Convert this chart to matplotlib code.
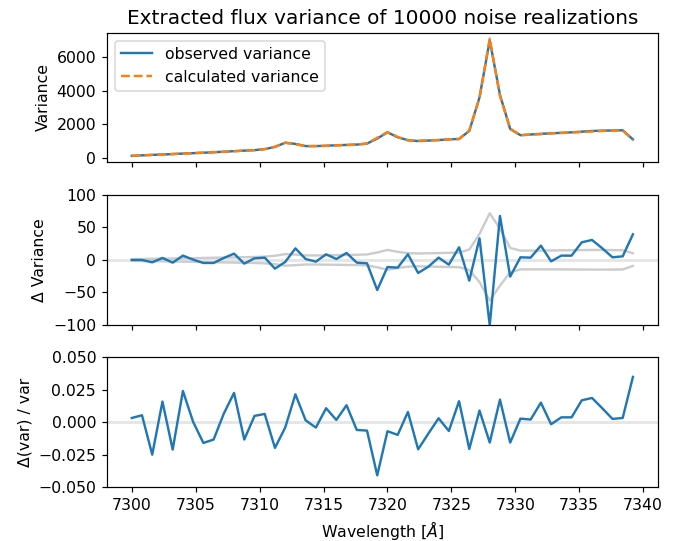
import numpy as np
import matplotlib
matplotlib.use("Agg")
import matplotlib.pyplot as plt

# ---- data ----
wavelength_start = 7300.0
wavelength_step = 0.8
n_points = 50

obs_var = [120, 150, 175, 200, 225, 255, 280, 305, 335, 365,
           400, 430, 460, 520, 650, 900, 830, 700, 700, 720,
           750, 770, 790, 850, 1150, 1520, 1230, 1050, 1000, 1030,
           1060, 1100, 1130, 1600, 3600, 7000, 3750, 1720, 1350, 1390,
           1430, 1460, 1490, 1520, 1560, 1600, 1620, 1630, 1640, 1100]

delta_var = [0.0, 0.0, -3.6, 3.1, -4.1, 6.7, 0.5, -4.6, -4.6, 3.1,
             9.7, -5.6, 2.6, 3.6, -13.3, -3.1, 17.9, 1.5, -2.6, 8.7,
             1.5, 10.8, -4.1, -5.1, -46.2, -10.8, -11.8, 8.7, -20.0, -10.3,
             3.6, -7.2, 19.5, -31.8, 33.3, -100.5, 67.7, -25.6, 4.1, 3.6,
             22.1, -2.1, 6.7, 6.7, 27.2, 30.8, 18.0, 4.1, 5.6, 39.5]

rel_delta = [0.0033, 0.0054, -0.0249, 0.0159, -0.0210, 0.0241, 0.0003, -0.0159, -0.0133, 0.0067,
             0.0226, -0.0133, 0.0049, 0.0064, -0.0197, -0.0041, 0.0215, 0.0015, -0.0041, 0.0108,
             0.0018, 0.0131, -0.0059, -0.0064, -0.0408, -0.0069, -0.0097, 0.0079, -0.0208, -0.0087,
             0.0031, -0.0067, 0.0162, -0.0205, 0.0090, -0.0156, 0.0174, -0.0156, 0.0028, 0.0021,
             0.0151, -0.0015, 0.0038, 0.0038, 0.0169, 0.0187, 0.0108, 0.0026, 0.0033, 0.0349]

band_upper = [1.2, 1.5, 1.8, 2.0, 2.3, 2.6, 2.8, 3.1, 3.4, 3.7,
              4.0, 4.3, 4.6, 5.2, 6.5, 9.0, 8.3, 7.0, 7.0, 7.2,
              7.5, 7.7, 8.0, 8.5, 11.5, 15.5, 12.5, 10.5, 10.0, 10.3,
              10.6, 11.0, 11.3, 16.0, 40.0, 72.0, 48.0, 18.5, 14.4, 14.4,
              14.4, 14.6, 14.9, 15.0, 15.2, 15.4, 15.4, 15.2, 15.0, 10.3]

band_lower = [-1.2, -1.5, -1.8, -2.0, -2.3, -2.6, -2.8, -3.1, -3.4, -3.7,
              -4.0, -4.3, -4.6, -5.2, -6.5, -8.8, -8.0, -7.0, -7.0, -7.2,
              -7.4, -7.6, -7.8, -8.4, -11.2, -15.0, -12.2, -10.3, -9.8, -10.1,
              -10.4, -10.8, -11.1, -15.5, -34.0, -62.5, -39.5, -19.0, -14.4, -14.4,
              -14.4, -14.4, -14.5, -14.6, -14.7, -14.8, -14.8, -14.7, -14.6, -9.2]

title = "Extracted flux variance of 10000 noise realizations"
xlabel = r"Wavelength [$\AA$]"

# ---- figure ----
plt.rcParams["font.size"] = 10.5
wl = wavelength_start + wavelength_step * np.arange(n_points)
obs = np.array(obs_var, dtype=float)
dv = np.array(delta_var, dtype=float)
calc = obs - dv

dpi = 108
fig = plt.figure(figsize=(681 / dpi, 541 / dpi), dpi=dpi)
left, width = 0.1567, 0.8095
ax1 = fig.add_axes([left, 0.7011, width, 0.2384])
ax2 = fig.add_axes([left, 0.3993, width, 0.2403], sharex=ax1)
ax3 = fig.add_axes([left, 0.0993, width, 0.2403], sharex=ax1)

ax1.plot(wl, obs, color="C0", lw=1.6, label="observed variance")
ax1.plot(wl, calc, color="C1", lw=1.6, ls="--", label="calculated variance")
ax1.set_ylabel("Variance")
ax1.set_title(title, fontsize=13.3)
ax1.legend(loc="upper left")
ax1.tick_params(labelbottom=False)

ax2.axhline(0, color="0.9", lw=2, zorder=0)
ax2.plot(wl, band_upper, color="0.8", lw=1.6, zorder=1)
ax2.plot(wl, band_lower, color="0.8", lw=1.6, zorder=1)
ax2.plot(wl, dv, color="C0", lw=1.6, zorder=2)
ax2.set_ylim(-100, 100)
ax2.set_ylabel("Δ Variance")
ax2.tick_params(labelbottom=False)

ax3.axhline(0, color="0.9", lw=2, zorder=0)
ax3.plot(wl, rel_delta, color="C0", lw=1.6, zorder=2)
ax3.set_ylim(-0.05, 0.05)
ax3.set_yticks([-0.05, -0.025, 0.0, 0.025, 0.05])
ax3.set_ylabel("Δ(var) / var")
ax3.set_xlabel(xlabel)

fig.savefig("out.png", dpi=dpi)
